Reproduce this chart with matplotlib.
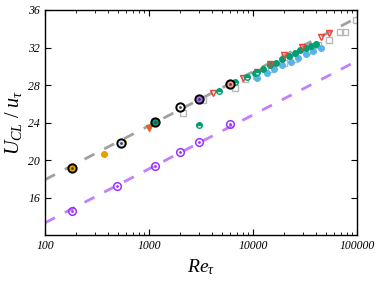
import numpy as np
import matplotlib
matplotlib.use("Agg")
import matplotlib.pyplot as plt
from matplotlib.ticker import NullFormatter

plt.rcParams["font.family"] = ["Liberation Serif", "DejaVu Serif"]
plt.rcParams["mathtext.fontset"] = "custom"
plt.rcParams["mathtext.it"] = "Liberation Serif:italic"
plt.rcParams["mathtext.rm"] = "Liberation Serif"

# log-law lines: U = 2.5 ln(Re) + B
kappa_inv = 2.5
B_upper = 6.4
B_lower = 1.8

# black-ringed circles (several data sets overlapping)
re_ring = [182, 540, 1140, 2000, 3000, 6000]
u_ring = [19.2, 21.8, 24.1, 25.7, 26.5, 28.1]
ring_fill = ["#e69f00", "#d0e8f8", "#009e73", "#ffffff", "#b070ff", "#f0a090"]

# purple open circles
re_purple = [182, 490, 1140, 2000, 3000, 6000]
u_purple = [14.6, 17.2, 19.4, 20.9, 21.9, 23.8]

# orange filled circles
re_orange = [370, 560]
u_orange = [20.7, 21.9]

# orange-red triangles
re_tri = [1000]
u_tri = [23.4]

# green half-filled circles
re_half = [3000, 4700, 6700, 8700, 11000]
u_half = [23.7, 27.4, 28.3, 28.9, 29.4]

# red open down triangles
re_red = [2000, 4100, 8000, 11000, 14600, 20000, 29500, 45000, 54000]
u_red = [25.6, 27.2, 28.7, 29.4, 30.2, 31.2, 32.1, 33.1, 33.5]

# grey open squares
re_grey = [2100, 3300, 6700, 8400, 10700, 15000, 20000, 25000, 33000,
           42000, 54000, 68000, 77000, 97000]
u_grey = [25.0, 26.4, 27.7, 28.6, 29.0, 29.7, 30.4, 30.8, 31.6,
          32.3, 32.8, 33.6, 33.6, 34.9]

# green filled circles (dense set)
re_green = [10500, 12500, 14500, 16500, 19000, 22000, 25000, 28000,
            32000, 36000, 40000]
u_green = [29.3, 29.7, 30.1, 30.4, 30.8, 31.1, 31.4, 31.7, 32.0,
           32.2, 32.4]

# light blue circles
re_blue = [11000, 13500, 16000, 19000, 23000, 27000, 32000, 38000, 45000]
u_blue = [28.8, 29.3, 29.7, 30.1, 30.5, 30.9, 31.3, 31.6, 31.9]


def main():
    fig = plt.figure(figsize=(3.82, 2.85), dpi=100)
    ax = fig.add_axes([0.118, 0.175, 0.817, 0.79])

    re_line = np.logspace(2, 5, 200)
    ax.plot(re_line, kappa_inv * np.log(re_line) + B_upper, ls=(0, (4, 4)),
            color="#a0a0a0", lw=2.0, zorder=1)
    ax.plot(re_line, kappa_inv * np.log(re_line) + B_lower, ls=(0, (4, 4)),
            color="#c080ff", lw=2.0, zorder=1)

    ax.plot(re_grey, u_grey, ls="none", marker="s", ms=4, mfc="none",
            mec="#b8b8b8", mew=1.0, zorder=2)
    ax.plot(re_blue, u_blue, ls="none", marker="o", ms=4, mfc="#56b4e9",
            mec="#56b4e9", zorder=3)
    ax.plot(re_green, u_green, ls="none", marker="o", ms=4, mfc="#009e73",
            mec="#009e73", zorder=4)
    ax.plot(re_red, u_red, ls="none", marker="v", ms=5, mfc="none",
            mec="#f04030", mew=1.0, zorder=5)
    ax.plot(re_half, u_half, ls="none", marker="o", ms=4, fillstyle="top",
            mfc="#009e73", mec="#009e73", mfcalt="white", zorder=5)
    ax.plot(re_orange, u_orange, ls="none", marker="o", ms=4,
            color="#e69f00", zorder=5)
    ax.plot(re_tri, u_tri, ls="none", marker="v", ms=4,
            color="#e8601c", zorder=5)

    for re, u, c in zip(re_ring, u_ring, ring_fill):
        ax.plot(re, u, marker="o", ms=6, mfc=c, mec="black", mew=1.4,
                zorder=6)
    ax.plot(re_ring, u_ring, ls="none", marker=".", ms=2, color="#404040",
            zorder=7)

    ax.plot(re_purple, u_purple, ls="none", marker="o", ms=5.5, mfc="none",
            mec="#9b30ff", mew=1.1, zorder=6)
    ax.plot(re_purple, u_purple, ls="none", marker=".", ms=2,
            color="#9b30ff", zorder=6)

    ax.set_xscale("log")
    ax.set_xlim(100, 100000)
    ax.set_ylim(12, 36)
    ax.set_xticks([100, 1000, 10000, 100000])
    ax.set_xticklabels(["100", "1000", "10000", "100000"])
    ax.set_yticks([16, 20, 24, 28, 32, 36])
    ax.xaxis.set_minor_formatter(NullFormatter())
    ax.tick_params(which="both", direction="in", top=True, right=True,
                   labelsize=8.5)
    ax.tick_params(which="major", length=4)
    ax.tick_params(which="minor", length=2)
    for lab in ax.get_xticklabels() + ax.get_yticklabels():
        lab.set_fontstyle("italic")
    for sp in ax.spines.values():
        sp.set_linewidth(1.0)

    ax.set_xlabel(r"$Re_\tau$", fontsize=14, labelpad=4)
    ax.set_ylabel(r"$U_{CL}\ /\ u_\tau$", fontsize=14.5, labelpad=3)

    fig.savefig("out.png", dpi=100)
    plt.close(fig)


if __name__ == "__main__":
    main()
